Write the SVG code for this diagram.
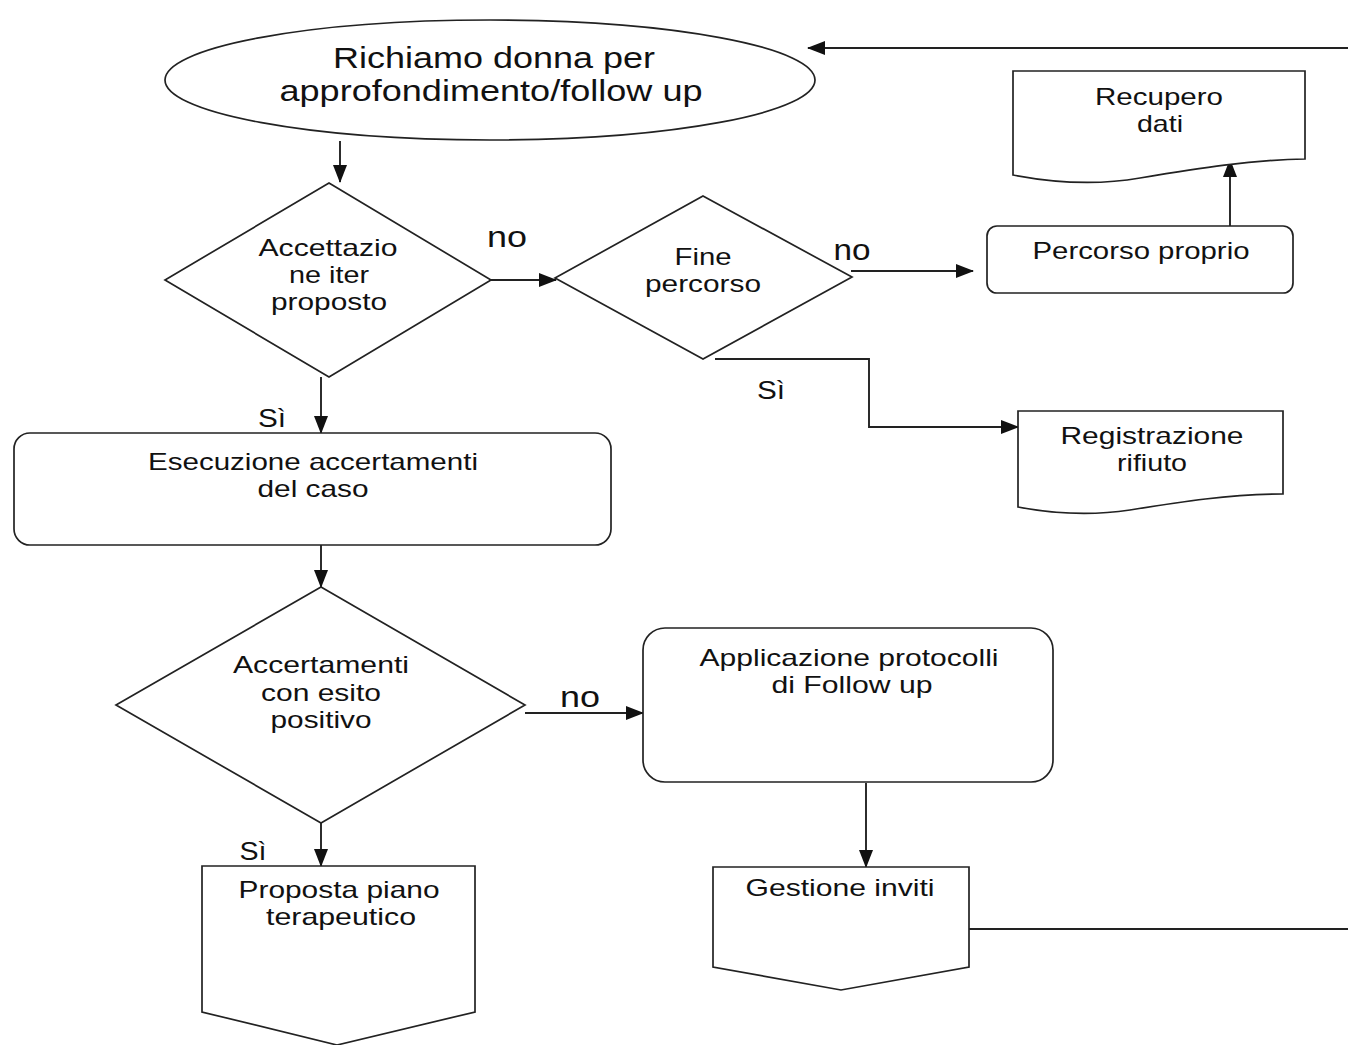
<svg xmlns="http://www.w3.org/2000/svg" width="1348" height="1045" viewBox="0 0 1348 1045">
<defs>
<style>
.shape{fill:#fff;stroke:#222;stroke-width:1.7}
.conn{fill:none;stroke:#222;stroke-width:1.9}
text{font-family:"Liberation Sans",Arial,sans-serif;fill:#111;text-anchor:middle}
.t{font-size:24px}
.big{font-size:29px}
.lbl{font-size:30px}
.si{font-size:26px}
</style>
<marker id="arr" markerUnits="userSpaceOnUse" markerWidth="20" markerHeight="16" refX="17" refY="8" orient="auto">
<path d="M0,1 L18,8 L0,15 Z" fill="#111"/>
</marker>
</defs>
<rect width="1348" height="1045" fill="#fff"/>

<g id="connectors">
<path class="conn" d="M1348,48 H808" marker-end="url(#arr)"/>
<path class="conn" d="M340,141 V182" marker-end="url(#arr)"/>
<path class="conn" d="M491,280 H556" marker-end="url(#arr)"/>
<path class="conn" d="M851,271 H973" marker-end="url(#arr)"/>
<path class="conn" d="M1230,226 V160" marker-end="url(#arr)"/>
<path class="conn" d="M715,359 H869 V427 H1018" marker-end="url(#arr)"/>
<path class="conn" d="M321,377 V433" marker-end="url(#arr)"/>
<path class="conn" d="M321,545 V587" marker-end="url(#arr)"/>
<path class="conn" d="M525,713 H643" marker-end="url(#arr)"/>
<path class="conn" d="M321,823 V866" marker-end="url(#arr)"/>
<path class="conn" d="M866,783 V867" marker-end="url(#arr)"/>
<path class="conn" d="M969,929 H1348"/>
<text class="lbl" x="507" y="247" textLength="40" lengthAdjust="spacingAndGlyphs">no</text>
<text class="lbl" x="852" y="260" textLength="37" lengthAdjust="spacingAndGlyphs">no</text>
<text class="si" x="771" y="399" textLength="28" lengthAdjust="spacingAndGlyphs">Sì</text>
<text class="si" x="272" y="427" textLength="28" lengthAdjust="spacingAndGlyphs">Sì</text>
<text class="lbl" x="580" y="707" textLength="40" lengthAdjust="spacingAndGlyphs">no</text>
<text class="si" x="253" y="860" textLength="27" lengthAdjust="spacingAndGlyphs">Sì</text>
</g>

<g id="n-richiamo">
<ellipse class="shape" cx="490" cy="80" rx="325" ry="60"/>
<text class="big" x="494" y="68" textLength="322" lengthAdjust="spacingAndGlyphs">Richiamo donna per</text>
<text class="big" x="491" y="101" textLength="423" lengthAdjust="spacingAndGlyphs">approfondimento/follow up</text>
</g>

<g id="n-recupero">
<path class="shape" d="M1013,71 H1305 V159 C1250,160 1200,168 1140,178 C1100,185 1060,184 1013,175 Z"/>
<text class="t" x="1159" y="105" textLength="128" lengthAdjust="spacingAndGlyphs">Recupero</text>
<text class="t" x="1160" y="132" textLength="46" lengthAdjust="spacingAndGlyphs">dati</text>
</g>

<g id="n-percorso">
<rect class="shape" x="987" y="226" width="306" height="67" rx="10"/>
<text class="t" x="1141" y="259" textLength="217" lengthAdjust="spacingAndGlyphs">Percorso proprio</text>
</g>

<g id="n-accettazione">
<polygon class="shape" points="329,183 491,280 329,377 165,280"/>
<text class="t" x="328" y="256" textLength="139" lengthAdjust="spacingAndGlyphs">Accettazio</text>
<text class="t" x="329" y="283" textLength="80" lengthAdjust="spacingAndGlyphs">ne iter</text>
<text class="t" x="329" y="310" textLength="116" lengthAdjust="spacingAndGlyphs">proposto</text>
</g>

<g id="n-fine">
<polygon class="shape" points="703,196 852,277 703,359 555,278"/>
<text class="t" x="703" y="265" textLength="57" lengthAdjust="spacingAndGlyphs">Fine</text>
<text class="t" x="703" y="292" textLength="116" lengthAdjust="spacingAndGlyphs">percorso</text>
</g>

<g id="n-registrazione">
<path class="shape" d="M1018,411 H1283 V494 C1230,494 1180,502 1130,510 C1090,516 1055,514 1018,507 Z"/>
<text class="t" x="1152" y="444" textLength="183" lengthAdjust="spacingAndGlyphs">Registrazione</text>
<text class="t" x="1152" y="471" textLength="70" lengthAdjust="spacingAndGlyphs">rifiuto</text>
</g>

<g id="n-esecuzione">
<rect class="shape" x="14" y="433" width="597" height="112" rx="16"/>
<text class="t" x="313" y="470" textLength="330" lengthAdjust="spacingAndGlyphs">Esecuzione accertamenti</text>
<text class="t" x="313" y="497" textLength="111" lengthAdjust="spacingAndGlyphs">del caso</text>
</g>

<g id="n-accertamenti">
<polygon class="shape" points="321,587 525,705 321,823 116,705"/>
<text class="t" x="321" y="673" textLength="176" lengthAdjust="spacingAndGlyphs">Accertamenti</text>
<text class="t" x="321" y="701" textLength="120" lengthAdjust="spacingAndGlyphs">con esito</text>
<text class="t" x="321" y="728" textLength="101" lengthAdjust="spacingAndGlyphs">positivo</text>
</g>

<g id="n-applicazione">
<rect class="shape" x="643" y="628" width="410" height="154" rx="22"/>
<text class="t" x="849" y="666" textLength="299" lengthAdjust="spacingAndGlyphs">Applicazione protocolli</text>
<text class="t" x="852" y="693" textLength="161" lengthAdjust="spacingAndGlyphs">di Follow up</text>
</g>

<g id="n-proposta">
<polygon class="shape" points="202,866 475,866 475,1012 337,1045 202,1012"/>
<text class="t" x="339" y="898" textLength="201" lengthAdjust="spacingAndGlyphs">Proposta piano</text>
<text class="t" x="341" y="925" textLength="150" lengthAdjust="spacingAndGlyphs">terapeutico</text>
</g>

<g id="n-gestione">
<polygon class="shape" points="713,867 969,867 969,967 841,990 713,967"/>
<text class="t" x="840" y="896" textLength="189" lengthAdjust="spacingAndGlyphs">Gestione inviti</text>
</g>
</svg>
